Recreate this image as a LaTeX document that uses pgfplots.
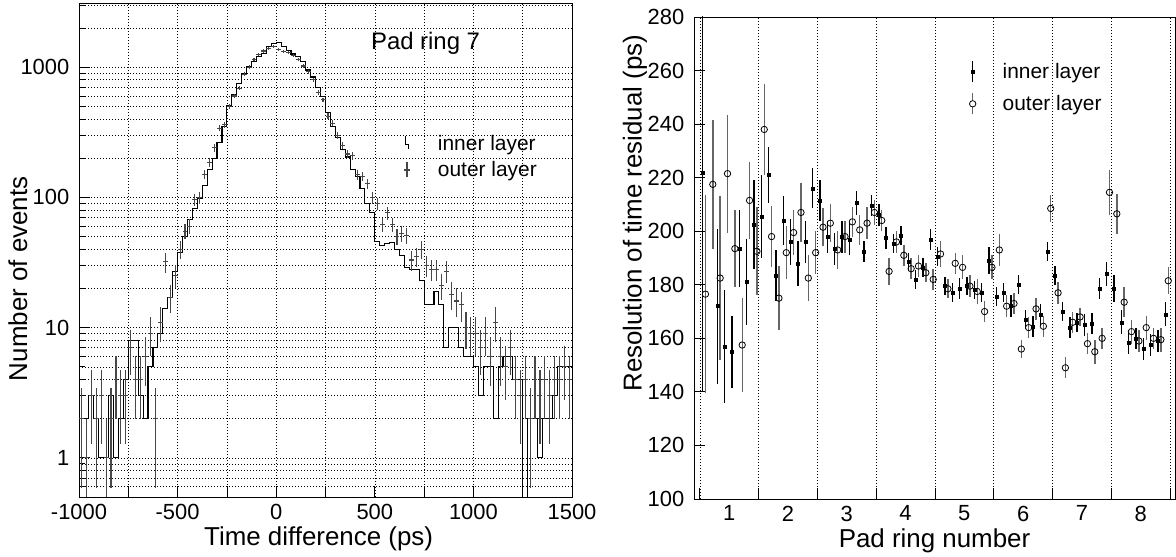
\documentclass[border=0pt]{standalone}
\usepackage{pgfplots}
\usepackage{pgfplotstable}
\pgfplotsset{compat=1.18}
\usepackage{fontspec}
\setmainfont{Liberation Sans}

\pgfplotstableread{
x y
-1000 2
-975 2
-950 3
-925 2
-900 1
-875 1
-850 3
-825 1
-800 2
-775 4
-750 8
-725 8
-700 3
-675 2
-650 5
-625 7
-600 9
-575 14
-550 17
-525 27
-500 38
-475 50
-450 68
-425 82
-400 98
-375 124
-350 164
-325 198
-300 263
-275 348
-250 508
-225 612
-200 753
-175 893
-150 1012
-125 1100
-100 1200
-75 1277
-50 1430
-25 1530
0 1545
25 1450
50 1343
75 1260
100 1200
125 1112
150 950
175 839
200 695
225 594
250 450
275 348
300 288
325 232
350 204
375 164
400 145
425 116
450 90
475 77
500 46
525 43
550 44
575 45
600 40
625 36
650 29
675 28
700 28
725 23
750 15
775 15
800 19
825 15
850 7
875 10
900 10
925 7
950 6
975 6
1000 5
1025 3
1050 5
1075 5
1100 2
1125 5
1150 6
1175 6
1200 4
1225 4
1250 0.05
1275 2
1300 2
1325 1
1350 2
1375 2
1400 3
1425 5
1450 5
1475 5
1500 5
}\innerhist

\pgfplotstableread{
x y
-987.5 2
-962.5 1
-937.5 3
-912.5 2
-887.5 3
-862.5 1
-837.5 2
-812.5 4
-787.5 3
-762.5 3
-737.5 7
-712.5 4
-687.5 4
-662.5 6
-637.5 9
-612.5 2
-587.5 11
-562.5 32
-537.5 17
-512.5 25
-487.5 40
-462.5 55
-437.5 60
-412.5 96
-387.5 99
-362.5 150
-337.5 186
-312.5 240
-287.5 340
-262.5 360
-237.5 500
-212.5 600
-187.5 690
-162.5 880
-137.5 1000
-112.5 1140
-87.5 1250
-62.5 1330
-37.5 1380
-12.5 1430
12.5 1360
37.5 1320
62.5 1300
87.5 1230
112.5 1140
137.5 1020
162.5 920
187.5 800
212.5 640
237.5 560
262.5 420
287.5 370
312.5 300
337.5 250
362.5 215
387.5 208
412.5 149
437.5 145
462.5 127
487.5 99
512.5 89
537.5 62
562.5 76
587.5 62
612.5 50
637.5 53
662.5 51
687.5 33
712.5 35
737.5 40
762.5 30
787.5 28
812.5 28
837.5 21
862.5 27
887.5 18
912.5 16
937.5 15
962.5 10
987.5 9
1012.5 9
1037.5 7
1062.5 9
1087.5 6
1112.5 11
1137.5 6
1162.5 5
1187.5 7
1212.5 4
1237.5 3
1262.5 4
1287.5 2
1312.5 4
1337.5 3
1362.5 4
1387.5 3
1412.5 4
1437.5 4
1462.5 5
1487.5 4
}\outerhist

\pgfplotstableread{
x y e
0.545 222 82
0.795 172 29
0.920 157 21
1.045 155 13.5
1.170 193.5 14.5
1.295 181 16
1.420 202.5 16.5
1.545 205.5 15.5
1.670 221 10.5
1.795 183.5 9.5
1.920 204 9
2.045 196 8.5
2.170 188 8.5
2.295 196 8
2.420 216 7.5
2.545 211.5 7.5
2.670 198 6
2.795 193.5 6
2.920 198 6
3.045 197 6
3.170 210.5 4.5
3.295 192.5 4
3.420 209.5 4
3.545 206 4
3.670 197.5 4
3.795 195.5 3.5
3.920 198.5 3.5
4.045 188.5 3.5
4.170 182 3.5
4.295 186.5 3.5
4.420 197 4
4.545 190.5 3.5
4.670 179.5 3.5
4.795 177 3.5
4.920 178.5 4
5.045 179.5 3.5
5.170 178 3.5
5.295 177 3.5
5.420 189 5
5.545 175.5 3.5
5.670 177 3.5
5.795 172 4
5.920 180 3.5
6.045 167 3.5
6.170 164.5 4
6.295 169 4
6.420 192.5 3.5
6.545 183.5 3.5
6.670 170 3.5
6.795 164 4
6.920 166 3.5
7.045 165 4
7.170 165.5 4
7.295 178.5 4
7.420 184 4.5
7.545 178.5 5
7.670 166 4.5
7.795 158.5 4.5
7.920 160 4
8.045 156 4
8.170 157.5 4
8.295 159 4
8.420 169 4.5
}\innerres

\pgfplotstableread{
x y e
0.595 176.5 37
0.720 217.5 24
0.845 182.5 30.5
0.970 221.5 22
1.095 193.5 14.5
1.220 157.5 17.5
1.345 211.5 14.5
1.470 192.5 16.5
1.595 238 17
1.720 198 11.5
1.845 175 12
1.970 192 10
2.095 199.5 8.5
2.220 207 11
2.345 182.5 8.5
2.470 192 8
2.595 201.5 7
2.720 203 7
2.845 193 7
2.970 198 6
3.095 203.5 5.5
3.220 200.5 5.5
3.345 203 6
3.470 207 4.5
3.595 204 4
3.720 185 5
3.845 196 4
3.970 191 4
4.095 186 4
4.220 187 4
4.345 184.5 3.5
4.470 182 4
4.595 191.5 5
4.720 178.5 3.5
4.845 188 4
4.970 186.5 4.5
5.095 179.5 4
5.220 177.5 4.5
5.345 170 4
5.470 186.5 4.5
5.595 193 6
5.720 172 4
5.845 173 4
5.970 156 3.5
6.095 164 4
6.220 171 4
6.345 164.5 4
6.470 208.5 5
6.595 177 4
6.720 149 4
6.845 166 4
6.970 168 3.5
7.095 158 4
7.220 155 4.5
7.345 160 4
7.470 214.5 8.5
7.595 206.5 7.5
7.720 173.5 5.5
7.845 162.5 4.5
7.970 159 4
8.095 164 4.5
8.220 160 4
8.345 159.5 4.5
8.470 181.5 5
}\outerres

\pgfplotsset{
  rootstyle/.style={
    scale only axis,
    axis line style={black, line width=0.9bp},
    tick style={black, line width=0.8bp},
    tick align=inside,
    xtick pos=bottom, ytick pos=left,
    /pgf/number format/assume math mode=true,
    ticklabel style={font=\fontsize{22}{22}\selectfont},
    xticklabel style={anchor=north, inner sep=0pt, yshift=-6.7bp},
    yticklabel style={anchor=east, inner sep=0pt, xshift=-9.5bp},
    label style={font=\fontsize{26}{26}\selectfont, inner sep=0pt},
    grid style={black, line width=0.5bp, dash pattern=on 0.9bp off 2.1bp},
    legend cell align=left,
  },
}

\begin{document}
\begin{tikzpicture}[x=1bp,y=1bp]
\useasboundingbox (0,0) rectangle (1176,557);

% ---------------- left panel ----------------
\begin{axis}[rootstyle,
  at={(79bp,60bp)}, anchor=south west,
  width=493bp, height=493.5bp,
  xmin=-1000, xmax=1500, ymode=log, ymin=0.5, ymax=3080,
  xtick={-1000,-750,-500,-250,0,250,500,750,1000,1250,1500},
  xticklabels={-1000,,-500,,0,,500,,1000,,1500},
  ytick={1,10,100,1000}, yticklabels={1,10,100,1000},
  minor ytick={0.6,0.7,0.8,0.9,2,3,4,5,6,7,8,9,20,30,40,50,60,70,80,90,200,300,400,500,600,700,800,900,2000,3000},
  xmajorgrids, ymajorgrids, yminorgrids,
  major tick length=11bp, minor tick length=6bp,
  xlabel={Time difference (ps)},
  ylabel={Number of events},
  xlabel style={at={(axis description cs:0.486,0)}, anchor=north, yshift=-29.5bp},
  ylabel style={at={(axis description cs:-0.124,0.442)}, anchor=center},
  legend style={draw=none, fill=none, inner sep=0pt, outer sep=0pt,
    at={(axis description cs:0.648,0.738)}, anchor=north west,
    font=\fontsize{21}{21}\selectfont, row sep=5.7bp, column sep=22.5bp,
    nodes={inner sep=0pt}},
]
\addplot[const plot, black, line width=1.1bp,
  legend image code/.code={
    \path[draw=none, fill=none] (-8.5bp,-10.5bp) rectangle (8.5bp,10.5bp);
    \draw[black, line width=1.1bp] (-1.3bp,7bp)--(-1.3bp,-1.3bp)--(1.4bp,-1.3bp)--(1.4bp,-6bp);}
  ] table[x=x,y=y] {\innerhist};
\addlegendentry{inner layer}
\addplot[draw=none, mark=none,
  legend image code/.code={
    \path[draw=none, fill=none] (-8.5bp,-10.5bp) rectangle (8.5bp,10.5bp);
    \draw[black!72, line width=1.1bp] (0bp,-7.5bp)--(0bp,7.5bp);
    \draw[black!72, line width=1.1bp] (-2.6bp,0bp)--(2.6bp,0bp);},
  error bars/.cd, x dir=both, x explicit, y dir=both, y explicit,
  error mark=none, error bar style={draw=black!72, line width=1.1bp}]
  table[x=x, y=y, x error expr=12.5,
        y error plus expr={sqrt(\thisrow{y})},
        y error minus expr={min(sqrt(\thisrow{y}),\thisrow{y}-0.02)}] {\outerhist};
\addlegendentry{outer layer}
\node[anchor=west, inner sep=0pt, font=\fontsize{24}{24}\selectfont] at (axis description cs:0.592,0.92) {Pad ring 7};
\end{axis}

% ---------------- right panel ----------------
\begin{axis}[rootstyle,
  at={(694bp,58bp)}, anchor=south west,
  width=481bp, height=482bp,
  xmin=0.4, xmax=8.585, ymin=100, ymax=280,
  xtick={0.5,1.5,2.5,3.5,4.5,5.5,6.5,7.5,8.5},
  xticklabels={,,,,,,,,},
  extra x ticks={1,2,3,4,5,6,7,8},
  extra x tick labels={1,2,3,4,5,6,7,8},
  extra x tick style={grid=none, tick style={draw=none}},
  xmajorgrids,
  ytick={100,120,...,280},
  major tick length=11bp,
  xlabel={Pad ring number},
  ylabel={Resolution of time residual (ps)},
  xlabel style={at={(axis description cs:0.5,0)}, anchor=north, yshift=-29.5bp},
  ylabel style={at={(axis description cs:-0.123,0.593)}, anchor=center},
  legend style={draw=none, fill=none, inner sep=0pt, outer sep=0pt,
    at={(axis description cs:0.5617,0.9097)}, anchor=north west,
    font=\fontsize{21}{21}\selectfont, row sep=9.7bp, column sep=21.5bp,
    nodes={inner sep=0pt}},
]
\addplot[only marks, mark=square*, mark size=1.5bp, black,
  legend image code/.code={
    \path[draw=none, fill=none] (-8.5bp,-10.5bp) rectangle (8.5bp,10.5bp);
    \draw[black, line width=1.4bp] (0bp,-10.5bp)--(0bp,10.5bp);
    \fill[black] (-1.6bp,-1.6bp) rectangle (1.6bp,1.6bp);},
  error bars/.cd, y dir=both, y explicit, error mark=none,
  error bar style={black, line width=1.4bp}]
  table[x=x, y=y, y error=e] {\innerres};
\addlegendentry{inner layer}
\addplot[only marks, mark=o, mark size=3.2bp, black,
  mark options={fill=white, line width=0.8bp},
  legend image code/.code={
    \path[draw=none, fill=none] (-8.5bp,-10.5bp) rectangle (8.5bp,10.5bp);
    \draw[black!60, line width=1.4bp] (0bp,-10.5bp)--(0bp,10.5bp);
    \draw[black, fill=white, line width=0.8bp] (0bp,0bp) circle (3.2bp);},
  error bars/.cd, y dir=both, y explicit, error mark=none,
  error bar style={black!60, line width=1.4bp}]
  table[x=x, y=y, y error=e] {\outerres};
\addlegendentry{outer layer}
\end{axis}
\end{tikzpicture}
\end{document}
